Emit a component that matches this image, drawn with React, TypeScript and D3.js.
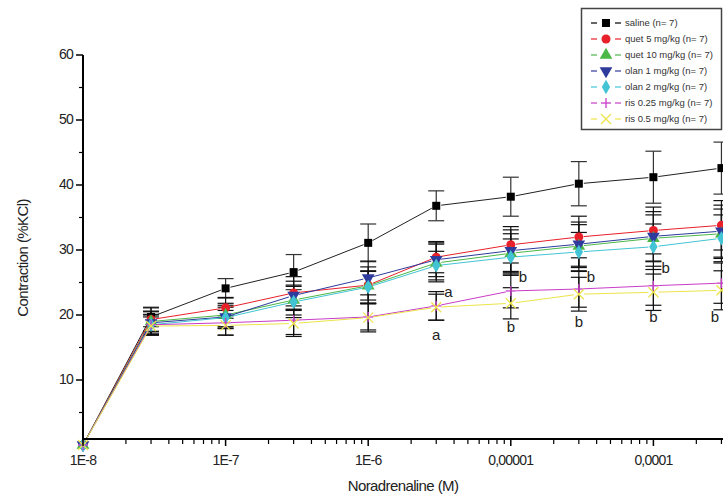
import React from "react";
import * as d3 from "d3";

const concentrations = [1e-8, 3e-8, 1e-7, 3e-7, 1e-6, 3e-6, 1e-5, 3e-5, 1e-4, 3e-4];
const seriesNames = [
  "saline (n= 7)",
  "quet 5 mg/kg (n= 7)",
  "quet 10 mg/kg (n= 7)",
  "olan 1 mg/kg (n= 7)",
  "olan 2 mg/kg (n= 7)",
  "ris 0.25 mg/kg (n= 7)",
  "ris 0.5 mg/kg (n= 7)",
];
const salineMean = [0, 19.7, 24.1, 26.6, 31.1, 36.8, 38.2, 40.2, 41.2, 42.6];
const quet5Mean = [0, 19.3, 21.1, 23.4, 24.6, 28.9, 30.8, 32.0, 33.0, 33.8];
const quet10Mean = [0, 19.0, 20.0, 22.3, 24.5, 28.0, 29.5, 30.6, 31.8, 32.5];
const olan1Mean = [0, 18.8, 19.7, 23.0, 25.7, 28.5, 29.9, 30.9, 32.1, 32.9];
const olan2Mean = [0, 18.5, 19.6, 22.0, 24.3, 27.6, 28.9, 29.7, 30.5, 31.8];
const ris025Mean = [0, 18.5, 18.8, 19.2, 19.7, 21.4, 23.7, 24.0, 24.5, 24.9];
const ris05Mean = [0, 18.3, 18.4, 18.7, 19.6, 21.2, 21.8, 23.2, 23.5, 23.8];

const salineSem = [0, 1.5, 1.5, 2.7, 2.9, 2.3, 3.0, 3.4, 4.0, 4.0];
const quet5Sem = [0, 1.8, 1.6, 2.5, 2.8, 2.4, 2.8, 3.2, 3.6, 3.8];
const quet10Sem = [0, 1.6, 1.8, 2.3, 2.2, 2.9, 3.0, 3.3, 3.6, 3.8];
const olan1Sem = [0, 1.7, 1.8, 2.2, 2.6, 2.6, 3.2, 3.4, 3.8, 4.0];
const olan2Sem = [0, 1.5, 1.6, 2.4, 2.5, 2.2, 2.8, 3.0, 3.5, 3.6];
const ris025Sem = [0, 1.6, 1.9, 2.2, 2.0, 2.2, 2.6, 2.8, 3.0, 3.1];
const ris05Sem = [0, 1.4, 1.5, 2.0, 2.2, 2.0, 2.4, 2.6, 2.8, 3.0];

const seriesColors = ["#000000", "#e8202a", "#4cb848", "#2e3a9c", "#42c4d4", "#c83cc8", "#ece44a"];
const seriesMarkers = ["square", "circle", "triangle", "triangleDown", "diamond", "plus", "cross"];

const majorTicks = [1e-8, 1e-7, 1e-6, 1e-5, 1e-4];
const majorTickLabels = ["1E-8", "1E-7", "1E-6", "0,00001", "0,0001"];
const yTicks = [10, 20, 30, 40, 50, 60];

const sigLetters = [
  { c: 3e-6, t: "a", pos: "right", v: 23.4 },
  { c: 3e-6, t: "a", pos: "below", v: 16.8 },
  { c: 1e-5, t: "b", pos: "right", v: 25.7 },
  { c: 1e-5, t: "b", pos: "below", v: 18.0 },
  { c: 3e-5, t: "b", pos: "right", v: 25.7 },
  { c: 3e-5, t: "b", pos: "below", v: 18.8 },
  { c: 1e-4, t: "b", pos: "right", v: 27.0 },
  { c: 1e-4, t: "b", pos: "below", v: 19.5 },
  { c: 3e-4, t: "b", pos: "below", v: 19.5 },
];

const means = [salineMean, quet5Mean, quet10Mean, olan1Mean, olan2Mean, ris025Mean, ris05Mean];
const sems = [salineSem, quet5Sem, quet10Sem, olan1Sem, olan2Sem, ris025Sem, ris05Sem];

const W = 723;
const H = 498;
const x = d3.scaleLog().domain([1e-8, 1e-3]).range([83, 796]);
const y = d3.scaleLinear().domain([0, 60]).range([445, 55]);
const axisY = 439;
const FONT = "'Liberation Sans', Arial, sans-serif";

function Marker({ type, cx, cy, color }: { type: string; cx: number; cy: number; color: string }) {
  if (type === "plus") {
    return (
      <g stroke={color} strokeWidth={1.3}>
        <line x1={cx - 5} x2={cx + 5} y1={cy} y2={cy} />
        <line x1={cx} x2={cx} y1={cy - 5} y2={cy + 5} />
      </g>
    );
  }
  if (type === "cross") {
    return (
      <g stroke={color} strokeWidth={1.3}>
        <line x1={cx - 5} x2={cx + 5} y1={cy - 5} y2={cy + 5} />
        <line x1={cx - 5} x2={cx + 5} y1={cy + 5} y2={cy - 5} />
      </g>
    );
  }
  let sym: any = d3.symbolSquare;
  let size = 64;
  let rot = 0;
  if (type === "circle") { sym = d3.symbolCircle; size = 64; }
  if (type === "triangle") { sym = d3.symbolTriangle; size = 70; }
  if (type === "triangleDown") { sym = d3.symbolTriangle; size = 70; rot = 180; }
  if (type === "diamond") { sym = d3.symbolDiamond; size = 60; }
  const p = d3.symbol().type(sym).size(size)() as string;
  return <path d={p} fill={color} transform={`translate(${cx},${cy}) rotate(${rot})`} />;
}

export default function App() {
  const minorTicks: number[] = [];
  for (let e = -8; e <= -4; e++) {
    for (let k = 2; k <= 9; k++) minorTicks.push(k * Math.pow(10, e));
  }
  minorTicks.push(2e-3);
  const yMinor = [5, 15, 25, 35, 45, 55];

  const gap = 5;
  const segs = (vals: number[]) => {
    const out: { x1: number; y1: number; x2: number; y2: number }[] = [];
    for (let i = 0; i < vals.length - 1; i++) {
      const ax = x(concentrations[i]);
      const ay = y(vals[i]);
      const bx = x(concentrations[i + 1]);
      const by = y(vals[i + 1]);
      const len = Math.hypot(bx - ax, by - ay);
      const ux = (bx - ax) / len;
      const uy = (by - ay) / len;
      const g0 = i === 0 ? 0 : gap;
      out.push({ x1: ax + ux * g0, y1: ay + uy * g0, x2: bx - ux * gap, y2: by - uy * gap });
    }
    return out;
  };

  return (
    <svg width={W} height={H} style={{ position: "absolute", left: 0, top: 0, background: "#fff" }} fontFamily={FONT}>
      {means.map((vals, si) => (
        <g key={"eb" + si} stroke={si === 0 ? "#333" : "#111"} strokeWidth={1.2}>
          {vals.map((v, i) => {
            const s = sems[si][i];
            if (s === 0) return null;
            const cx = x(concentrations[i]);
            return (
              <g key={i}>
                <line x1={cx} x2={cx} y1={y(v - s)} y2={y(v + s)} />
                <line x1={cx - 8} x2={cx + 8} y1={y(v + s)} y2={y(v + s)} />
                <line x1={cx - 8} x2={cx + 8} y1={y(v - s)} y2={y(v - s)} />
              </g>
            );
          })}
        </g>
      ))}
      {means.map((vals, si) => (
        <g key={"ln" + si} stroke={si === 0 ? "#222" : seriesColors[si]} strokeWidth={1}>
          {segs(vals).map((s, i) => (
            <line key={i} x1={s.x1} y1={s.y1} x2={s.x2} y2={s.y2} />
          ))}
        </g>
      ))}
      {means.map((vals, si) => (
        <g key={"mk" + si}>
          {vals.map((v, i) => (
            <Marker key={i} type={seriesMarkers[si]} cx={x(concentrations[i])} cy={y(v)} color={seriesColors[si]} />
          ))}
        </g>
      ))}
      {sigLetters.map((l, i) => {
        const px = x(l.c) + (l.pos === "right" ? 8 : 0);
        return (
          <text
            key={"sl" + i}
            x={Math.min(px, 715)}
            y={y(l.v)}
            textAnchor={l.pos === "right" ? "start" : "middle"}
            dominantBaseline="middle"
            fontSize={15}
            fill="#222"
          >
            {l.t}
          </text>
        );
      })}
      <line x1={83} x2={W} y1={axisY} y2={axisY} stroke="#000" strokeWidth={2} />
      <line x1={83} x2={83} y1={y(60)} y2={axisY + 1} stroke="#000" strokeWidth={2} />
      {majorTicks.map((t, i) => (
        <g key={"xt" + i}>
          <line x1={x(t)} x2={x(t)} y1={axisY} y2={axisY + 7} stroke="#000" strokeWidth={1.5} />
          <text x={x(t)} y={461} textAnchor="middle" dominantBaseline="middle" fontSize={14} letterSpacing={-0.8} fill="#222">
            {majorTickLabels[i]}
          </text>
        </g>
      ))}
      {minorTicks.map((t, i) => (
        <line key={"xm" + i} x1={x(t)} x2={x(t)} y1={axisY} y2={axisY + 5} stroke="#000" strokeWidth={1.2} />
      ))}
      {yTicks.map((t) => (
        <g key={"yt" + t}>
          <line x1={76} x2={83} y1={y(t)} y2={y(t)} stroke="#000" strokeWidth={1.5} />
          <text x={73} y={y(t)} textAnchor="end" dominantBaseline="middle" fontSize={14} letterSpacing={-0.8} fill="#222">
            {t}
          </text>
        </g>
      ))}
      {yMinor.map((t) => (
        <line key={"ym" + t} x1={79} x2={83} y1={y(t)} y2={y(t)} stroke="#000" strokeWidth={1.2} />
      ))}
      <text
        transform={`translate(24,258) rotate(-90)`}
        textAnchor="middle"
        dominantBaseline="middle"
        fontSize={15}
        letterSpacing={-0.6}
        fill="#222"
      >
        Contraction (%KCl)
      </text>
      <text x={403} y={487} textAnchor="middle" dominantBaseline="middle" fontSize={15} letterSpacing={-0.6} fill="#222">
        Noradrenaline (M)
      </text>
      <g>
        <rect x={581.5} y={8.5} width={140} height={121} fill="#fff" stroke="#444" strokeWidth={1.5} />
        {seriesNames.map((n, i) => {
          const ly = 23 + i * 16;
          const c = seriesColors[i];
          return (
            <g key={"lg" + i}>
              <line x1={591} x2={597} y1={ly} y2={ly} stroke={c} strokeWidth={1.2} />
              <line x1={615} x2={621} y1={ly} y2={ly} stroke={c} strokeWidth={1.2} />
              <Marker type={seriesMarkers[i]} cx={606} cy={ly} color={c} />
              <text x={625} y={ly} dominantBaseline="middle" fontSize={9.5} fill="#333">
                {n}
              </text>
            </g>
          );
        })}
      </g>
    </svg>
  );
}
